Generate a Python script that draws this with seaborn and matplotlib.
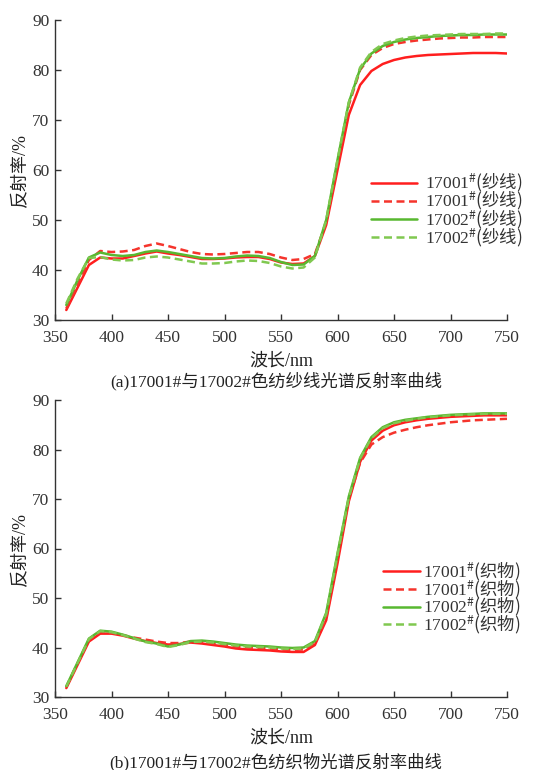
import numpy as np
import pandas as pd
import matplotlib
matplotlib.use("Agg")
import matplotlib.pyplot as plt
import seaborn as sns

wavelength = list(range(360, 760, 10))

yarn_17001_a = [32.0, 36.5, 41.0, 42.5, 42.3, 42.3, 42.8, 43.3, 43.7, 43.3,
                43.0, 42.6, 42.2, 42.2, 42.3, 42.5, 42.6, 42.6, 42.2, 41.5,
                41.2, 41.3, 42.8, 49.0, 60.0, 71.0, 77.0, 79.8, 81.2, 82.0,
                82.5, 82.8, 83.0, 83.1, 83.2, 83.3, 83.4, 83.4, 83.4, 83.3]
yarn_17001_b = [32.3, 37.0, 42.0, 43.8, 43.6, 43.7, 44.0, 44.8, 45.3, 44.8,
                44.2, 43.6, 43.2, 43.1, 43.2, 43.4, 43.6, 43.6, 43.2, 42.5,
                42.0, 42.2, 43.2, 49.5, 61.0, 73.0, 80.0, 83.0, 84.4, 85.2,
                85.6, 85.9, 86.1, 86.3, 86.4, 86.5, 86.5, 86.6, 86.6, 86.6]
yarn_17002_a = [33.0, 38.0, 42.5, 43.5, 43.0, 42.8, 43.0, 43.6, 43.9, 43.6,
                43.2, 42.8, 42.4, 42.3, 42.4, 42.7, 42.9, 42.8, 42.4, 41.6,
                41.0, 41.1, 42.8, 50.0, 62.0, 73.5, 80.2, 83.3, 84.8, 85.6,
                86.1, 86.4, 86.6, 86.8, 86.9, 87.0, 87.0, 87.1, 87.1, 87.1]
yarn_17002_b = [33.3, 38.3, 42.4, 42.6, 42.1, 41.9, 42.0, 42.5, 42.7, 42.5,
                42.1, 41.7, 41.3, 41.3, 41.4, 41.7, 41.9, 41.8, 41.4, 40.7,
                40.3, 40.5, 42.5, 50.0, 62.0, 73.5, 80.5, 83.6, 85.2, 85.9,
                86.4, 86.7, 86.9, 87.0, 87.1, 87.2, 87.2, 87.2, 87.3, 87.3]

fab_17001_a = [31.8, 36.5, 41.2, 42.8, 42.8, 42.4, 41.8, 41.3, 40.9, 40.6,
               40.7, 41.0, 40.8, 40.5, 40.2, 39.8, 39.6, 39.5, 39.4, 39.2,
               39.1, 39.1, 40.5, 45.5, 57.0, 69.5, 77.5, 81.8, 83.8, 84.9,
               85.5, 85.9, 86.2, 86.4, 86.6, 86.7, 86.8, 86.9, 86.9, 86.9]
fab_17001_b = [32.0, 36.8, 41.5, 43.2, 43.0, 42.5, 42.0, 41.6, 41.2, 40.9,
               40.9, 41.2, 41.1, 40.8, 40.5, 40.2, 40.0, 39.9, 39.8, 39.6,
               39.5, 39.6, 40.8, 46.0, 58.0, 70.0, 77.3, 81.0, 82.5, 83.4,
               84.0, 84.5, 84.9, 85.2, 85.5, 85.7, 85.9, 86.0, 86.1, 86.2]
fab_17002_a = [32.2, 37.0, 41.8, 43.4, 43.2, 42.6, 41.9, 41.2, 40.8, 40.2,
               40.6, 41.3, 41.4, 41.2, 40.9, 40.6, 40.4, 40.3, 40.2, 40.0,
               39.9, 40.0, 41.3, 47.0, 59.0, 70.5, 78.3, 82.5, 84.5, 85.5,
               86.0, 86.3, 86.6, 86.8, 87.0, 87.1, 87.2, 87.3, 87.3, 87.3]
fab_17002_b = [32.1, 36.9, 41.7, 43.3, 43.1, 42.5, 41.8, 41.1, 40.7, 40.1,
               40.5, 41.1, 41.2, 41.0, 40.7, 40.4, 40.2, 40.1, 40.0, 39.8,
               39.7, 39.8, 41.1, 46.8, 58.8, 70.3, 78.2, 82.3, 84.3, 85.3,
               85.8, 86.2, 86.5, 86.7, 86.9, 87.0, 87.1, 87.2, 87.2, 87.2]

yarn_labels = ["17001$^{\\#}\\mathrm{(纱线)}$", "17001$^{\\#}\\mathrm{(纱线)}$",
               "17002$^{\\#}\\mathrm{(纱线)}$", "17002$^{\\#}\\mathrm{(纱线)}$"]
fab_labels = ["17001$^{\\#}\\mathrm{(织物)}$", "17001$^{\\#}\\mathrm{(织物)}$",
              "17002$^{\\#}\\mathrm{(织物)}$", "17002$^{\\#}\\mathrm{(织物)}$"]
x_ticks = [350, 400, 450, 500, 550, 600, 650, 700, 750]
y_ticks = [30, 40, 50, 60, 70, 80, 90]
xlabel = "波长/nm"
ylabel = "反射率/%"
caption_a = "(a)17001#与17002#色纺纱线光谱反射率曲线"
caption_b = "(b)17001#与17002#色纺织物光谱反射率曲线"

sns.set_theme(style="white")
plt.rcParams["font.family"] = ["Liberation Serif", "Noto Sans CJK SC", "DejaVu Sans"]
plt.rcParams["mathtext.fontset"] = "custom"
plt.rcParams["mathtext.rm"] = "Noto Sans CJK SC"
plt.rcParams["mathtext.it"] = "Liberation Serif"
plt.rcParams["mathtext.default"] = "it"
plt.rcParams["axes.unicode_minus"] = False

colors = ["#ff1e1e", "#f5342c", "#58b830", "#80c850"]
styles = ["-", (0, (3.2, 1.8)), "-", (0, (3.2, 1.8))]

fig = plt.figure(figsize=(5.52, 7.7), dpi=100)
ax1 = fig.add_axes([55/552, 1-320/770, 452/552, 300/770])
ax2 = fig.add_axes([55/552, 1-697/770, 452/552, 297/770])

def draw(ax, series, labels, legend_y, legend_x, hlen, htp, lsp):
    for s, lab, c, ls in zip(series, labels, colors, styles):
        df = pd.DataFrame({"wl": wavelength, "r": s})
        sns.lineplot(data=df, x="wl", y="r", ax=ax, color=c, linestyle=ls,
                     linewidth=1.8, label=lab)
    ax.set_xlim(350, 750)
    ax.set_ylim(30, 90)
    ax.set_xticks(x_ticks)
    ax.set_yticks(y_ticks)
    ax.tick_params(direction="in", length=4, width=1, labelsize=12.5,
                   colors="#333333", bottom=True, left=True)
    ax.tick_params(axis="x", pad=7)
    ax.tick_params(axis="y", pad=4)
    for t in ax.get_xticklabels() + ax.get_yticklabels():
        t.set_color("#333333")
    for sp in ["top", "right"]:
        ax.spines[sp].set_visible(False)
    for sp in ["left", "bottom"]:
        ax.spines[sp].set_color("#333333")
        ax.spines[sp].set_linewidth(1.0)
    ax.set_xlabel(xlabel, fontsize=13, color="#222222", labelpad=5)
    ax.set_ylabel(ylabel, fontsize=13, color="#222222", labelpad=2)
    leg = ax.legend(loc="center left", bbox_to_anchor=(legend_x, legend_y),
                    frameon=False, fontsize=12.5, handlelength=hlen,
                    handletextpad=htp, labelspacing=lsp, borderpad=0,
                    borderaxespad=0)
    for t in leg.get_texts():
        t.set_color("#333333")

draw(ax1, [yarn_17001_a, yarn_17001_b, yarn_17002_a, yarn_17002_b], yarn_labels,
     0.365, 0.70, 2.6, 0.5, -0.22)
draw(ax2, [fab_17001_a, fab_17001_b, fab_17002_a, fab_17002_b], fab_labels,
     0.332, 0.725, 2.15, 0.15, -0.25)

fig.text(0.5, 1-381/770, caption_a, ha="center", va="center", fontsize=12.5, color="#222222")
fig.text(0.5, 1-762/770, caption_b, ha="center", va="center", fontsize=12.5, color="#222222")

fig.savefig("out.png", dpi=100)
